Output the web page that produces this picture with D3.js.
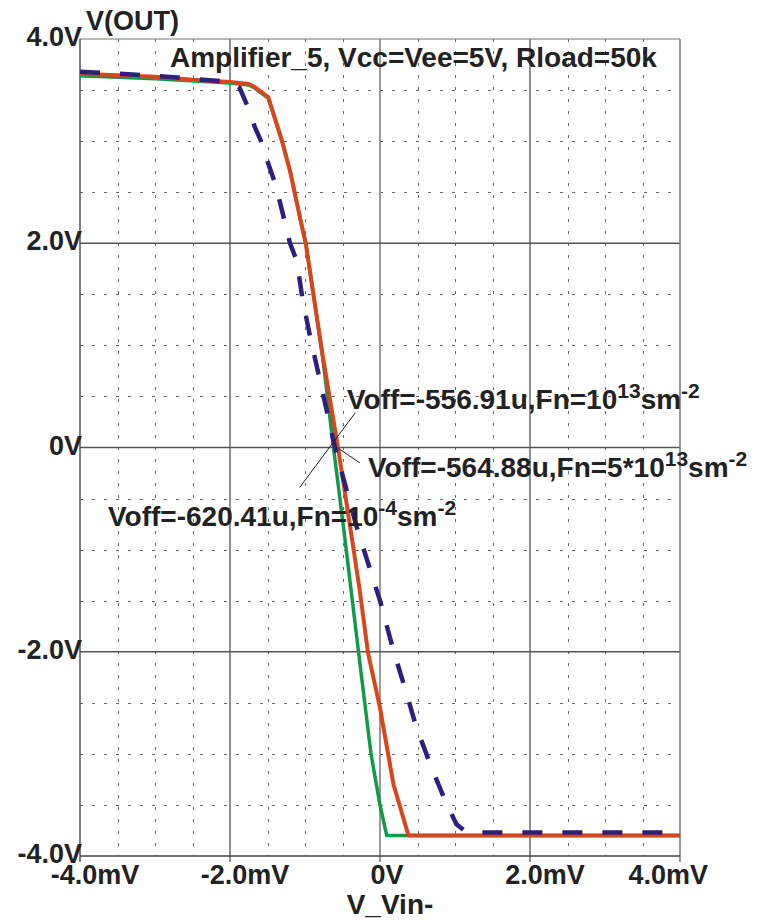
<!DOCTYPE html>
<html>
<head>
<meta charset="utf-8">
<script src="https://cdn.jsdelivr.net/npm/d3@7"></script>
<style>
  body { margin: 0; background: #fff; }
  svg { display: block; }
  text { font-family: "Liberation Sans", Arial, sans-serif; font-weight: bold; fill: #222; }
</style>
</head>
<body>
<svg id="chart" width="774" height="923"></svg>
<script>
// Axis ticks (x in mV, y in V)
const xTicks = [-4, -2, 0, 2, 4];
const xTickLabels = ["-4.0mV", "-2.0mV", "0V", "2.0mV", "4.0mV"];
const yTicks = [-4, -2, 0, 2, 4];
const yTickLabels = ["-4.0V", "-2.0V", "0V", "2.0V", "4.0V"];

// Transfer curves V(OUT) vs V_Vin-  : [mV, V]
const greenCurve = [
  [-4.0, 3.64], [-3.0, 3.61], [-2.0, 3.57], [-1.75, 3.55], [-1.67, 3.52],
  [-1.49, 3.42], [-1.31, 3.01], [-1.2, 2.71], [-1.04, 2.16], [-0.99, 2.0],
  [-0.89, 1.51], [-0.76, 0.86], [-0.62, 0.0], [-0.47, -0.88], [-0.29, -1.98],
  [-0.12, -3.0], [0.0, -3.5], [0.09, -3.80], [4.0, -3.80]
];
const redCurve = [
  [-4.0, 3.66], [-3.0, 3.63], [-2.5, 3.60], [-2.0, 3.58], [-1.75, 3.56],
  [-1.67, 3.53], [-1.49, 3.43], [-1.31, 3.01], [-1.2, 2.71], [-1.04, 2.16],
  [-0.99, 2.0], [-0.89, 1.51], [-0.76, 0.88], [-0.56, 0.0], [-0.37, -0.91],
  [-0.27, -1.40], [-0.16, -2.01], [0.0, -2.55], [0.18, -3.30], [0.38, -3.80],
  [4.0, -3.80]
];
const dashedCurve = [
  [-4.0, 3.68], [-3.0, 3.64], [-2.5, 3.61], [-2.0, 3.58], [-1.87, 3.52],
  [-1.76, 3.33], [-1.67, 3.14], [-1.58, 2.99], [-1.49, 2.78], [-1.4, 2.59],
  [-1.33, 2.39], [-1.2, 2.0], [-1.11, 1.83], [-1.03, 1.44], [-0.93, 1.08],
  [-0.6, 0.0], [-0.31, -0.78], [-0.13, -1.2], [0.0, -1.5], [0.18, -1.99],
  [0.33, -2.35], [0.49, -2.75], [0.69, -3.14], [0.87, -3.46], [1.02, -3.69],
  [1.16, -3.77], [4.0, -3.77]
];

// Annotation texts (segments; sup = superscript)
const label1 = [["Voff=-556.91u,Fn=10", false], ["13", true], ["sm", false], ["-2", true]];
const label2 = [["Voff=-564.88u,Fn=5*10", false], ["13", true], ["sm", false], ["-2", true]];
const label3 = [["Voff=-620.41u,Fn=10", false], ["-4", true], ["sm", false], ["-2", true]];

const titleText = "Amplifier_5, Vcc=Vee=5V, Rload=50k";
const yTitle = "V(OUT)";
const xTitle = "V_Vin-";

// ---- layout ----
const W = 774, H = 923;
const plot = { left: 80, right: 680, top: 39, bottom: 856 };

const svg = d3.select("#chart");
const x = d3.scaleLinear().domain([-4, 4]).range([plot.left, plot.right]);
const y = d3.scaleLinear().domain([-4, 4]).range([plot.bottom, plot.top]);

// minor dotted grid every 0.5
const minor = d3.range(-3.5, 4, 0.5).filter(v => Math.abs(v % 2) > 1e-9);
const gMinor = svg.append("g").attr("stroke", "#666").attr("stroke-width", 1);
gMinor.selectAll("line.vx").data(minor).join("line")
  .attr("x1", d => Math.round(x(d)) + 0.5).attr("x2", d => Math.round(x(d)) + 0.5)
  .attr("y1", plot.top).attr("y2", plot.bottom)
  .attr("stroke-dasharray", "3,9");
gMinor.selectAll("line.hy").data(minor).join("line")
  .attr("y1", d => Math.round(y(d)) + 0.5).attr("y2", d => Math.round(y(d)) + 0.5)
  .attr("x1", plot.left).attr("x2", plot.right)
  .attr("stroke-dasharray", "3,9");

// major grid lines
const gMajor = svg.append("g");
gMajor.selectAll("line.mx").data(xTicks.filter(v => v > -4 && v < 4)).join("line")
  .attr("x1", d => x(d)).attr("x2", d => x(d))
  .attr("y1", plot.top).attr("y2", plot.bottom + 6)
  .attr("stroke", d => d === 0 ? "#999" : "#555")
  .attr("stroke-width", d => d === 0 ? 2 : 1.3);
gMajor.selectAll("line.my").data(yTicks.filter(v => v > -4 && v < 4)).join("line")
  .attr("y1", d => y(d)).attr("y2", d => y(d))
  .attr("x1", plot.left).attr("x2", plot.right)
  .attr("stroke", "#555").attr("stroke-width", 1.3);

// frame
svg.append("line").attr("x1", plot.left).attr("x2", plot.right).attr("y1", plot.top).attr("y2", plot.top)
  .attr("stroke", "#777").attr("stroke-width", 1.2);
svg.append("line").attr("x1", plot.right).attr("x2", plot.right).attr("y1", plot.top).attr("y2", plot.bottom + 6)
  .attr("stroke", "#777").attr("stroke-width", 1.5);
svg.append("line").attr("x1", plot.left).attr("x2", plot.left).attr("y1", plot.top).attr("y2", plot.bottom + 6)
  .attr("stroke", "#555").attr("stroke-width", 1.5);
svg.append("line").attr("x1", plot.left).attr("x2", plot.right).attr("y1", plot.bottom).attr("y2", plot.bottom)
  .attr("stroke", "#444").attr("stroke-width", 1.5);

// curves
const line = d3.line().x(d => x(d[0])).y(d => y(d[1]));
svg.append("path").datum(greenCurve).attr("d", line)
  .attr("fill", "none").attr("stroke", "#129a4b").attr("stroke-width", 3.5).attr("stroke-linejoin", "round");
svg.append("path").datum(redCurve).attr("d", line)
  .attr("fill", "none").attr("stroke", "#d9461e").attr("stroke-width", 4).attr("stroke-linejoin", "round");
svg.append("path").datum(dashedCurve).attr("d", line)
  .attr("fill", "none").attr("stroke", "#2c1f7e").attr("stroke-width", 4.5)
  .attr("stroke-dasharray", "20,20");

// leader lines from labels to zero crossings
const leaders = [
  [[-0.33, 0.34], [-1.07, -0.39]],
  [[-0.57, 0.0], [-0.27, -0.15]]
];
svg.append("g").selectAll("line").data(leaders).join("line")
  .attr("x1", d => x(d[0][0])).attr("y1", d => y(d[0][1]))
  .attr("x2", d => x(d[1][0])).attr("y2", d => y(d[1][1]))
  .attr("stroke", "#222").attr("stroke-width", 1);

// annotation labels
function richLabel(parts, px, py) {
  const t = svg.append("text").attr("x", px).attr("y", py).attr("font-size", 28);
  let raised = false;
  parts.forEach(([s, sup]) => {
    const sp = t.append("tspan").text(s);
    if (sup && !raised) { sp.attr("dy", -11).attr("font-size", 21); raised = true; }
    else if (sup) { sp.attr("font-size", 21); }
    else if (!sup && raised) { sp.attr("dy", 11); raised = false; }
  });
}
richLabel(label1, 347, 409);
richLabel(label2, 368, 477);
richLabel(label3, 108, 526);

// tick labels
svg.append("g").selectAll("text").data(yTicks).join("text")
  .attr("x", plot.left + 2).attr("y", d => y(d) + 7)
  .attr("text-anchor", "end").attr("font-size", 27)
  .text((d, i) => yTickLabels[i]);

svg.append("g").selectAll("text").data(xTicks).join("text")
  .attr("x", (d, i) => i === xTicks.length - 1 ? plot.right + 28 : x(d) + (d === 0 ? 7 : 15))
  .attr("y", plot.bottom + 28)
  .attr("text-anchor", (d, i) => i === xTicks.length - 1 ? "end" : "middle")
  .attr("font-size", 27)
  .text((d, i) => xTickLabels[i]);

// titles
svg.append("text").attr("x", 170).attr("y", 67).attr("font-size", 28).text(titleText);
svg.append("text").attr("x", 86).attr("y", 30).attr("font-size", 27).text(yTitle);
svg.append("text").attr("x", 390).attr("y", 914).attr("text-anchor", "middle").attr("font-size", 28).text(xTitle);
</script>
</body>
</html>
